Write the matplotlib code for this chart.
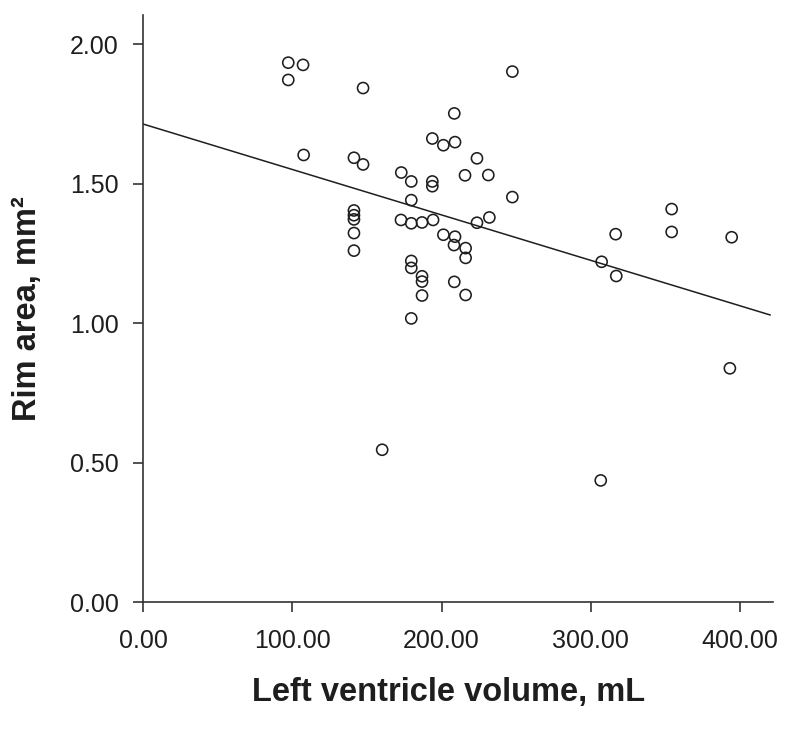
import matplotlib.pyplot as plt
import numpy as np

# Left ventricle volume (mL) and rim area (mm^2)
lv_volume = [97.3, 107.2, 97.3, 147.4, 107.6, 141.3, 147.4, 173.0, 179.7, 193.8,
             193.8, 179.7, 141.3, 141.3, 141.3, 172.8, 179.7, 186.9, 194.3, 141.3,
             141.3, 179.7, 179.7, 186.9, 186.9, 186.9, 179.7, 193.8, 247.4, 208.5,
             201.2, 209.0, 223.7, 215.7, 231.3, 247.4, 223.7, 232.0, 201.2, 209.0,
             208.3, 216.1, 216.1, 208.5, 216.1, 316.6, 307.2, 317.0, 354.1, 354.1,
             394.3, 160.2, 306.6, 393.1]
rim_area = [1.934, 1.926, 1.872, 1.843, 1.603, 1.593, 1.569, 1.540, 1.508, 1.508,
            1.491, 1.441, 1.404, 1.387, 1.372, 1.370, 1.358, 1.361, 1.370, 1.323,
            1.260, 1.223, 1.198, 1.168, 1.149, 1.099, 1.017, 1.662, 1.902, 1.752,
            1.638, 1.649, 1.591, 1.530, 1.531, 1.452, 1.360, 1.379, 1.317, 1.310,
            1.280, 1.269, 1.234, 1.148, 1.101, 1.319, 1.220, 1.169, 1.409, 1.327,
            1.308, 0.546, 0.436, 0.838]

# fitted line as drawn in the figure
fit_intercept = 1.714
fit_slope = -0.00163
fit_x_range = [0.0, 420.0]

x_ticks = [0, 100, 200, 300, 400]
y_ticks = [0.0, 0.5, 1.0, 1.5, 2.0]

plt.rcParams['font.family'] = ['Liberation Sans', 'DejaVu Sans']

fig = plt.figure(figsize=(7.94, 7.30), dpi=100)
ax = fig.add_axes([0.1801, 0.1753, 0.7931, 0.8042])

ink = '#1e1e1e'
ax.scatter(lv_volume, rim_area, s=64, facecolors='none', edgecolors=ink,
           linewidths=1.15, zorder=3)

fx = np.array(fit_x_range)
ax.plot(fx, fit_intercept + fit_slope * fx, color=ink, lw=1.1, zorder=2)

ax.set_xlim(0, 421.8)
ax.set_ylim(0, 2.105)
ax.set_xticks(x_ticks)
ax.set_yticks(y_ticks)
ax.set_xticklabels([f'{v:.2f}' for v in x_ticks])
ax.set_yticklabels([f'{v:.2f}' for v in y_ticks])

for side in ['top', 'right']:
    ax.spines[side].set_visible(False)
for side in ['left', 'bottom']:
    ax.spines[side].set_color('#333333')
    ax.spines[side].set_linewidth(1.2)

ax.tick_params(axis='both', direction='out', length=7.5, width=1.2,
               color='#333333', labelsize=18, labelcolor=ink)
ax.tick_params(axis='x', pad=12)
ax.tick_params(axis='y', pad=10)

ax.set_xlabel('Left ventricle volume, mL', fontsize=23.5, fontweight='bold', color=ink)
ax.set_ylabel('Rim area, mm²', fontsize=23.5, fontweight='bold', color=ink)
ax.xaxis.label.set_va('baseline')
ax.xaxis.set_label_coords(0.4856, -0.1687)
ax.yaxis.label.set_va('center')
ax.yaxis.set_label_coords(-0.1833, 0.5)

fig.savefig('out.png', dpi=100)
